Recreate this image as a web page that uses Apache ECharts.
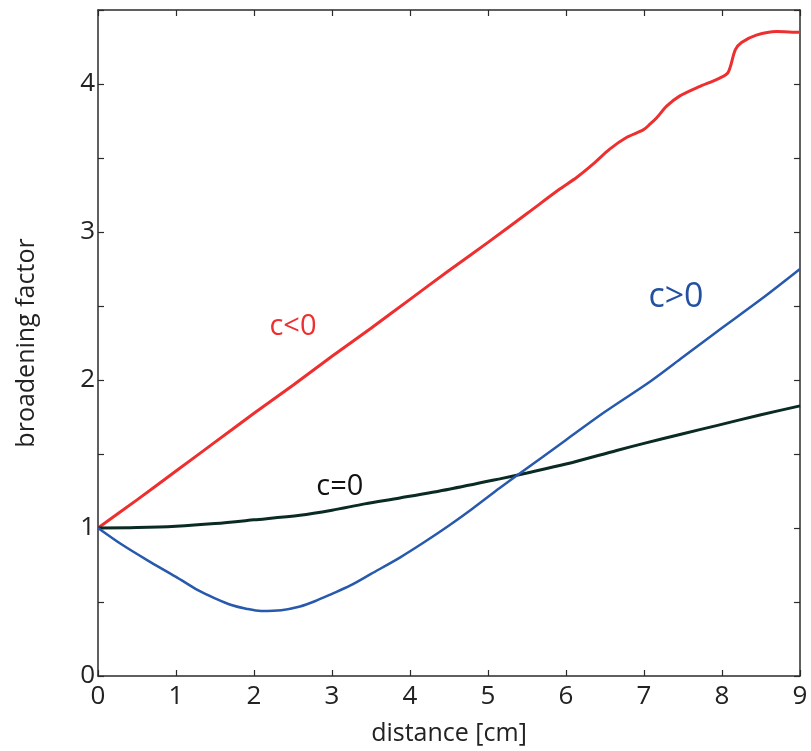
<!DOCTYPE html>
<html>
<head>
<meta charset="utf-8">
<script src="https://cdn.jsdelivr.net/npm/echarts@6/dist/echarts.min.js"></script>
<style>
  html, body { margin: 0; padding: 0; background: #fff; }
  #chart { width: 811px; height: 751px; }
</style>
</head>
<body>
<div id="chart"></div>
<script>
// c<0 curve (red)
var redX = [0, 0.5, 1, 1.5, 2, 2.5, 3, 3.5, 4, 4.5, 5, 5.5, 5.92, 6.14, 6.35, 6.56, 6.78, 6.99, 7.08, 7.16, 7.29, 7.46, 7.7, 7.97, 8.08, 8.17, 8.25, 8.44, 8.7, 8.9, 9];
var redY = [1.0, 1.19, 1.385, 1.58, 1.775, 1.965, 2.16, 2.35, 2.545, 2.74, 2.93, 3.125, 3.29, 3.37, 3.46, 3.56, 3.64, 3.69, 3.73, 3.77, 3.85, 3.92, 3.98, 4.04, 4.08, 4.23, 4.28, 4.33, 4.355, 4.35, 4.35];
// c=0 curve (black)
var blackX = [0, 0.5, 1, 1.5, 2, 2.59, 3, 3.42, 3.87, 4.5, 5.15, 5.5, 6, 6.65, 7, 7.5, 7.93, 8.5, 9];
var blackY = [1.0, 1.003, 1.012, 1.03, 1.055, 1.086, 1.12, 1.163, 1.203, 1.262, 1.332, 1.372, 1.432, 1.524, 1.572, 1.637, 1.692, 1.765, 1.825];
// c>0 curve (blue)
var blueX = [0, 0.3, 0.64, 1, 1.28, 1.5, 1.71, 1.9, 2.09, 2.35, 2.59, 2.78, 3.0, 3.23, 3.5, 3.87, 4.2, 4.51, 4.8, 5.15, 5.37, 5.7, 6, 6.5, 7.08, 7.5, 7.93, 8.5, 9];
var blueY = [1.0, 0.89, 0.78, 0.67, 0.58, 0.525, 0.48, 0.455, 0.44, 0.445, 0.47, 0.505, 0.555, 0.61, 0.69, 0.8, 0.91, 1.02, 1.13, 1.27, 1.355, 1.48, 1.595, 1.785, 1.99, 2.155, 2.325, 2.545, 2.75];
// curve labels, in data coordinates
var labelText = ['c<0', 'c=0', 'c>0'];
var labelX = [2.5, 3.1, 7.41];
var labelY = [2.36, 1.28, 2.56];

var xTicks = [0, 1, 2, 3, 4, 5, 6, 7, 8, 9];
var yTicks = [0, 1, 2, 3, 4];

var FONT = '"Open Sans", "Noto Sans", sans-serif';
var AXIS_COLOR = '#2b2b2b';
var colors = ['#ee2f2f', '#0a2a24', '#2759ad'];
var labelColors = ['#ee2f2f', '#111111', '#2350a0'];

function pairs(xs, ys) {
  return xs.map(function (x, i) { return [x, ys[i]]; });
}

var chart = echarts.init(document.getElementById('chart'), null, { renderer: 'canvas' });

function xAxisCfg(pos, showLabel) {
  return {
    type: 'value',
    position: pos,
    min: xTicks[0],
    max: xTicks[xTicks.length - 1],
    interval: 1,
    name: showLabel ? 'distance [cm]' : '',
    nameLocation: 'middle',
    nameGap: 45,
    nameTextStyle: { fontFamily: FONT, fontSize: 25, color: '#222' },
    axisLine: { show: true, onZero: false, lineStyle: { color: AXIS_COLOR, width: 1.5 } },
    axisTick: { show: true, inside: true, length: 6, lineStyle: { color: AXIS_COLOR, width: 1.2 } },
    axisLabel: { show: showLabel, margin: 8, fontFamily: FONT, fontSize: 26, color: '#222' },
    splitLine: { show: false }
  };
}

function yAxisCfg(pos, showLabel) {
  return {
    type: 'value',
    position: pos,
    min: 0,
    max: 4.5,
    interval: 0.5,
    name: showLabel ? 'broadening factor' : '',
    nameLocation: 'middle',
    nameGap: 59,
    nameTextStyle: { fontFamily: FONT, fontSize: 25, color: '#222' },
    axisLine: { show: true, onZero: false, lineStyle: { color: AXIS_COLOR, width: 1.5 } },
    axisTick: { show: true, inside: true, length: 6, lineStyle: { color: AXIS_COLOR, width: 1.2 } },
    axisLabel: {
      show: showLabel, margin: 3, fontFamily: FONT, fontSize: 26, color: '#222',
      formatter: function (v) { return yTicks.indexOf(v) >= 0 ? String(v) : ''; }
    },
    splitLine: { show: false }
  };
}

function lineSeries(data, color, width, idx) {
  return {
    type: 'line',
    data: data,
    showSymbol: false,
    smooth: 0.3,
    lineStyle: { color: color, width: width },
    markPoint: {
      symbol: 'circle',
      symbolSize: 0,
      silent: true,
      data: [{
        coord: [labelX[idx], labelY[idx]],
        label: {
          show: true,
          formatter: labelText[idx],
          position: 'inside',
          fontFamily: FONT,
          fontSize: idx === 2 ? 34 : 29,
          color: labelColors[idx]
        }
      }]
    }
  };
}

chart.setOption({
  backgroundColor: '#fff',
  animation: false,
  grid: { left: 98, right: 11, top: 10, bottom: 75 },
  xAxis: [xAxisCfg('bottom', true), xAxisCfg('top', false)],
  yAxis: [yAxisCfg('left', true), yAxisCfg('right', false)],
  series: [
    lineSeries(pairs(redX, redY), colors[0], 3, 0),
    lineSeries(pairs(blackX, blackY), colors[1], 3, 1),
    lineSeries(pairs(blueX, blueY), colors[2], 2.5, 2)
  ]
});
</script>
</body>
</html>
